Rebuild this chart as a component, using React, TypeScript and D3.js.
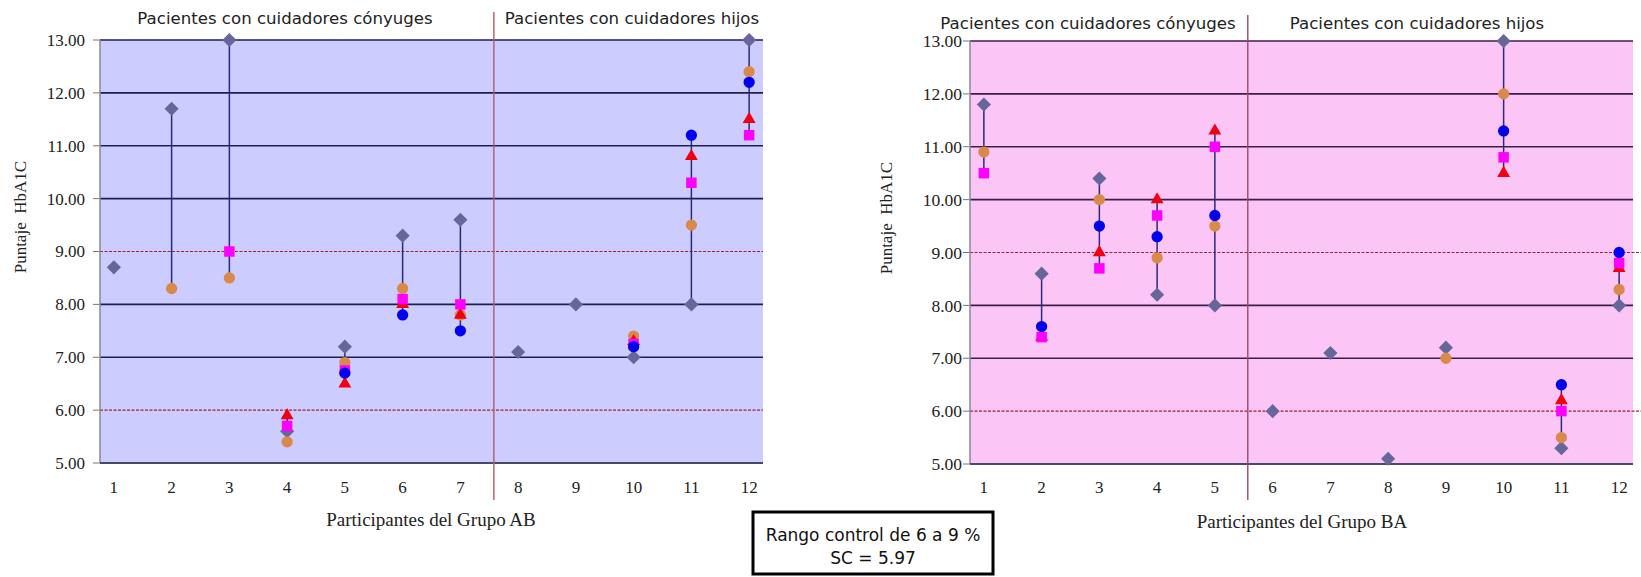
import React from "react";
import * as d3 from "d3";

// ---------- data ----------
const participants = [1, 2, 3, 4, 5, 6, 7, 8, 9, 10, 11, 12];
const yTicks = [5, 6, 7, 8, 9, 10, 11, 12, 13];
const controlLimits = [6, 9];

// Grupo AB
const abDiamond = [8.7, 11.7, 13.0, 5.6, 7.2, 9.3, 9.6, 7.1, 8.0, 7.0, 8.0, 13.0];
const abOrange = [null, 8.3, 8.5, 5.4, 6.9, 8.3, 7.8, null, null, 7.4, 9.5, 12.4];
const abRed = [null, null, null, 5.9, 6.5, 8.0, 7.8, null, null, 7.3, 10.8, 11.5];
const abMagenta = [null, null, 9.0, 5.7, 6.75, 8.1, 8.0, null, null, 7.25, 10.3, 11.2];
const abBlue = [null, null, null, null, 6.7, 7.8, 7.5, null, null, 7.2, 11.2, 12.2];

// Grupo BA
const baDiamond = [11.8, 8.6, 10.4, 8.2, 8.0, 6.0, 7.1, 5.1, 7.2, 13.0, 5.3, 8.0];
const baOrange = [10.9, null, 10.0, 8.9, 9.5, null, null, null, 7.0, 12.0, 5.5, 8.3];
const baRed = [null, 7.4, 9.0, 10.0, 11.3, null, null, null, null, 10.5, 6.2, 8.7];
const baMagenta = [10.5, 7.4, 8.7, 9.7, 11.0, null, null, null, null, 10.8, 6.0, 8.8];
const baBlue = [null, 7.6, 9.5, 9.3, 9.7, null, null, null, null, 11.3, 6.5, 9.0];

const sectionLabels = ["Pacientes con cuidadores cónyuges", "Pacientes con cuidadores hijos"];
const yTitle = "Puntaje  HbA1C";
const abXTitle = "Participantes del Grupo AB";
const baXTitle = "Participantes del Grupo BA";
const noteLines = ["Rango control de 6 a 9 %", "SC = 5.97"];

type Val = number | null;

const SANS = "'DejaVu Sans', Verdana, sans-serif";
const SERIF = "'Liberation Serif', 'Times New Roman', serif";

const markerStyles = [
  { key: "diamond", fill: "#66669A", shape: "diamond" },
  { key: "orange", fill: "#D98A4A", shape: "circle" },
  { key: "red", fill: "#F00010", shape: "triangle" },
  { key: "magenta", fill: "#FF00FF", shape: "square" },
  { key: "blue", fill: "#0000EE", shape: "circle" },
];

function symbolPath(shape: string) {
  if (shape === "diamond") return d3.symbol(d3.symbolSquare, 100)() as string;
  if (shape === "circle") return d3.symbol(d3.symbolCircle, 100)() as string;
  if (shape === "triangle") return d3.symbol(d3.symbolTriangle, 72)() as string;
  return d3.symbol(d3.symbolSquare, 110)() as string;
}

interface PanelProps {
  left: number;
  right: number;
  top: number;
  bottom: number;
  bg: string;
  grid: string;
  divColor: string;
  split: number;
  series: Val[][];
  xTitle: string;
  xTitleX: number;
  xTitleY: number;
  yTitleX: number;
  yLabelX: number;
  yLabelSize: number;
  secX: [number, number];
  secY: number;
  divTop: number;
  dashExtend: number;
}

function Panel(p: PanelProps) {
  const x = d3.scaleLinear().domain([0.76, 12.24]).range([p.left, p.right]);
  const y = d3.scaleLinear().domain([5, 13]).range([p.bottom, p.top]);
  const yMid = y(9.65);
  return (
    <g>
      <rect x={p.left} y={p.top} width={p.right - p.left} height={p.bottom - p.top} fill={p.bg} />
      {yTicks.map((t) =>
        controlLimits.includes(t) ? (
          <line key={t} x1={p.left} x2={p.dashExtend} y1={y(t)} y2={y(t)} stroke="#A0203A" strokeWidth={1.2} strokeDasharray="3,1.5" />
        ) : t === 5 ? null : (
          <line key={t} x1={p.left} x2={p.right} y1={y(t)} y2={y(t)} stroke={p.grid} strokeWidth={1.6} />
        )
      )}
      {yTicks.map((t) => (
        <g key={"tk" + t}>
          <line x1={p.left - 7} x2={p.left} y1={y(t)} y2={y(t)} stroke="#777" strokeWidth={1} />
          <text x={p.yLabelX} y={y(t)} dy="0.35em" textAnchor="end" fontFamily={SERIF} fontSize={p.yLabelSize} fill="#222">
            {t.toFixed(2)}
          </text>
        </g>
      ))}
      <line x1={p.left} x2={p.left} y1={p.top} y2={p.bottom} stroke="#888899" strokeWidth={1.5} />
      <line x1={p.left} x2={p.right} y1={p.bottom} y2={p.bottom} stroke="#4a4a66" strokeWidth={1.8} />
      <line x1={x(p.split)} x2={x(p.split)} y1={p.divTop} y2={500} stroke={p.divColor} strokeWidth={1.4} />
      {participants.map((c, i) => {
        const vals = p.series.map((s) => s[i]).filter((v) => v != null) as number[];
        if (vals.length < 2) return null;
        return (
          <line key={"c" + c} x1={x(c)} x2={x(c)} y1={y(d3.min(vals)!)} y2={y(d3.max(vals)!)} stroke="#2A2A7A" strokeWidth={1.5} />
        );
      })}
      {markerStyles.map((m, si) =>
        participants.map((c, i) => {
          const v = p.series[si][i];
          if (v == null) return null;
          const rot = m.shape === "diamond" ? " rotate(45)" : "";
          return (
            <path key={m.key + c} d={symbolPath(m.shape)} transform={`translate(${x(c)},${y(v)})${rot}`} fill={m.fill} />
          );
        })
      )}
      {participants.map((c) => (
        <text key={"xl" + c} x={x(c)} y={487} dy="0.35em" textAnchor="middle" fontFamily={SERIF} fontSize={17} fill="#222">
          {c}
        </text>
      ))}
      <text x={p.xTitleX} y={p.xTitleY} textAnchor="middle" fontFamily={SERIF} fontSize={19} fill="#222">
        {p.xTitle}
      </text>
      <text
        transform={`translate(${p.yTitleX},${yMid}) rotate(-90)`}
        textAnchor="middle"
        dy="0.35em"
        fontFamily={SERIF}
        fontSize={17}
        fill="#222"
        style={{ whiteSpace: "pre" }}
      >
        {yTitle}
      </text>
      <text x={p.secX[0]} y={p.secY} textAnchor="middle" fontFamily={SANS} fontSize={16.6} fill="#222">
        {sectionLabels[0]}
      </text>
      <text x={p.secX[1]} y={p.secY} textAnchor="middle" fontFamily={SANS} fontSize={16.6} fill="#222">
        {sectionLabels[1]}
      </text>
    </g>
  );
}

export default function App() {
  return (
    <svg width={1641} height={577} style={{ position: "absolute", left: 0, top: 0, background: "#fff" }}>
      <rect width={1641} height={577} fill="#fff" />
      <Panel
        left={100}
        right={763}
        top={40}
        bottom={463}
        bg="#CCCCFF"
        grid="#1E1E50"
        divColor="#B85868"
        split={7.58}
        series={[abDiamond, abOrange, abRed, abMagenta, abBlue]}
        xTitle={abXTitle}
        xTitleX={431}
        xTitleY={526}
        yTitleX={20}
        yLabelX={85}
        yLabelSize={17}
        secX={[285, 632]}
        secY={24}
        divTop={12}
        dashExtend={763}
      />
      <Panel
        left={970}
        right={1633}
        top={41}
        bottom={464}
        bg="#FBC5F6"
        grid="#3A1E48"
        divColor="#9A4A6A"
        split={5.57}
        series={[baDiamond, baOrange, baRed, baMagenta, baBlue]}
        xTitle={baXTitle}
        xTitleX={1302}
        xTitleY={528}
        yTitleX={886}
        yLabelX={962}
        yLabelSize={17.5}
        secX={[1088, 1417]}
        secY={29}
        divTop={15}
        dashExtend={1641}
      />
      <rect x={753} y={512} width={240} height={62} fill="#fff" stroke="#000" strokeWidth={3} />
      {noteLines.map((t, i) => (
        <text key={i} x={873} y={541 + i * 23} textAnchor="middle" fontFamily={SANS} fontSize={17} fill="#111">
          {t}
        </text>
      ))}
    </svg>
  );
}
